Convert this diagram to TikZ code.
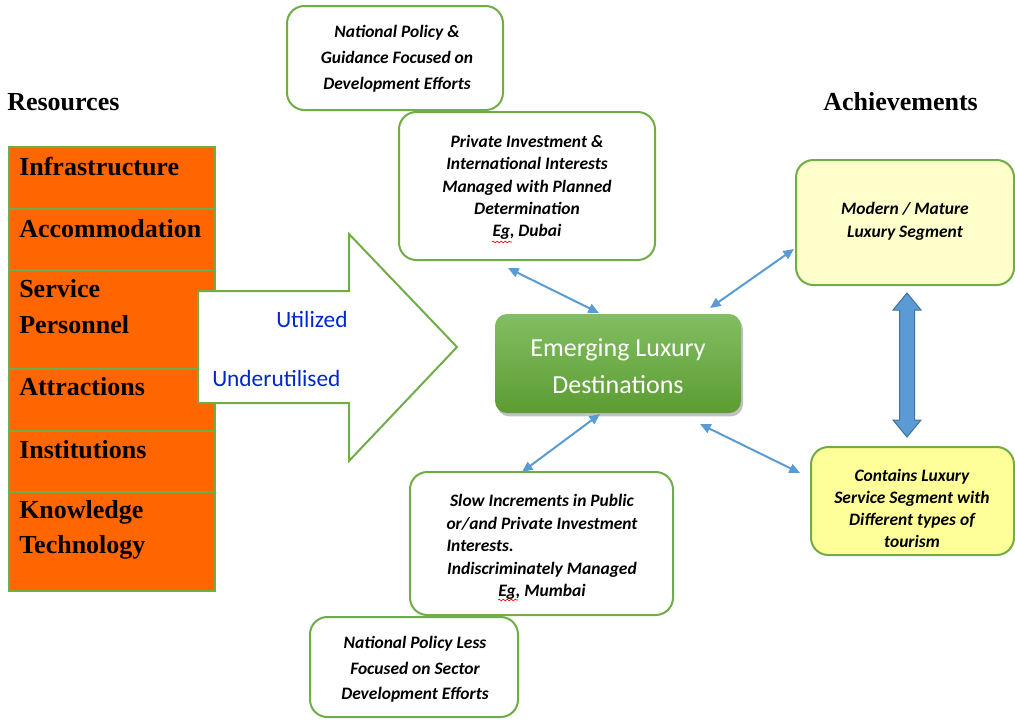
\documentclass[tikz,border=0pt]{standalone}
\usepackage{fontspec}
\usepackage{calc}
\setmainfont{Liberation Serif}
\newfontfamily\calfont{Carlito}
\usetikzlibrary{arrows.meta,shadows,decorations.pathmorphing}
\definecolor{bgreen}{RGB}{112,173,71}
\definecolor{orng}{RGB}{255,102,0}
\definecolor{ublue}{RGB}{0,40,200}
\definecolor{cblue}{RGB}{91,155,213}
\definecolor{cbluedk}{RGB}{65,113,156}
\definecolor{yelA}{RGB}{255,255,204}
\definecolor{yelB}{RGB}{255,255,153}
\definecolor{gtop}{RGB}{130,190,98}
\definecolor{gbot}{RGB}{92,156,50}
\begin{document}
\begin{tikzpicture}[x=0.75pt,y=-0.75pt,
  resrow/.style={draw=bgreen, line width=1.5pt, fill=orng, minimum width=154.5pt, inner sep=0, anchor=north west},
  restext/.style={anchor=base west, inner sep=0, font=\fontsize{19.5}{24}\selectfont\bfseries},
  ibox/.style={draw=bgreen, line width=1.5pt, fill=white, rounded corners=13pt, inner sep=0},
  ybox/.style={draw=bgreen, line width=1.5pt, rounded corners=13pt, inner sep=0},
  itext/.style={font=\calfont\fontsize{13.1}{#1}\selectfont\bfseries\itshape, align=center, inner sep=0},
  utext/.style={font=\calfont\fontsize{17.5}{21}\selectfont, text=ublue, anchor=base west, inner sep=0},
  conn/.style={draw=cblue, line width=1.5pt, {Triangle[length=8pt,width=7pt]}-{Triangle[length=8pt,width=7pt]}},
  squig/.style={draw=red, line width=0.5pt, decorate, decoration={snake, amplitude=0.6pt, segment length=3pt}}
]
\useasboundingbox (0,0) rectangle (1015,719);

% headings
\node[restext] (reshead) at (7,110) {Resources};
\node[restext] (achhead) at (823,110) {Achievements};

% resource column
\node[resrow, minimum height=46.5pt] (r1) at (8,146) {};
\node[resrow, minimum height=45.75pt] (r2) at (8,208) {};
\node[resrow, minimum height=74.25pt] (r3) at (8,269) {};
\node[resrow, minimum height=46.5pt] (r4) at (8,368) {};
\node[resrow, minimum height=45.75pt] (r5) at (8,430) {};
\node[resrow, minimum height=74.25pt] (r6) at (8,491) {};
\node[restext] (t1) at (19,175) {Infrastructure};
\node[restext] (t2) at (19,237) {Accommodation};
\node[restext] (t3a) at (19,297) {Service};
\node[restext] (t3b) at (19,333) {Personnel};
\node[restext] (t4) at (19,395) {Attractions};
\node[restext] (t5) at (19,458) {Institutions};
\node[restext] (t6a) at (19,518) {Knowledge};
\node[restext] (t6b) at (19,553) {Technology};

% block arrow
\draw[draw=bgreen, line width=1.5pt, fill=white, line join=miter]
  (198,291) -- (349,291) -- (349,234) -- (457,347) -- (349,461) -- (349,403) -- (198,403) -- cycle;
\node[utext] (util) at (276,327) {Utilized};
\node[utext] (under) at (212,386) {Underutilised};

% top boxes
\node[ibox, minimum width=162pt, minimum height=78pt] (b1) at (395,58) {};
\node[itext=19.5pt] (b1t) at (397,59) {National Policy \&\\Guidance Focused on\\Development Efforts};
\node[ibox, minimum width=192pt, minimum height=111pt] (b2) at (527,186) {};
\node[itext=16.7pt] (b2t) at (527,187.5) {Private Investment \&\\International Interests\\Managed with Planned\\Determination\\Eg, Dubai};
\draw[squig] (492,242) -- (512,242);

% bottom boxes
\node[ibox, minimum width=197.25pt, minimum height=107.25pt] (b3) at (541.5,543.5) {};
\node[itext=16.9pt] (b3t) at (542,547) {Slow Increments in Public\\or/and Private Investment\\\makebox[\widthof{or/and Private Investment}][l]{Interests.}\\Indiscriminately Managed\\Eg, Mumbai};
\draw[squig] (498,600) -- (518,600);
\node[ibox, minimum width=156pt, minimum height=75pt] (b4) at (414,667) {};
\node[itext=19.1pt] (b4t) at (415,669.5) {National Policy Less\\Focused on Sector\\Development Efforts};

% achievements
\node[ybox, fill=yelA, minimum width=163.5pt, minimum height=93.75pt] (y1) at (905,222.5) {};
\node[itext=17.25pt] (y1t) at (905,221.5) {Modern / Mature\\Luxury Segment};
\node[ybox, fill=yelB, minimum width=152.25pt, minimum height=81pt] (y2) at (912.5,501) {};
\node[itext=16.5pt] (y2t) at (912,508) {Contains Luxury\\Service Segment with\\Different types of\\tourism};

% central hub
\node[rounded corners=9pt, top color=gtop, bottom color=gbot, draw=none,
      drop shadow={shadow xshift=1.5pt, shadow yshift=-2.5pt, opacity=0.35, fill=black!70},
      minimum width=184.5pt, minimum height=74.25pt, inner sep=0] (hub) at (618,363.5) {};
\node[font=\calfont\fontsize{19.5}{27.75}\selectfont, text=white, align=center, inner sep=0] (hubt) at (618,366) {Emerging Luxury\\Destinations};

% thick double arrow
\draw[fill=cblue, draw=cbluedk, line width=0.75pt, line join=miter]
  (907,293) -- (921,310) -- (914.5,310) -- (914.5,420) -- (921,420) -- (907,437)
  -- (893,420) -- (899.5,420) -- (899.5,310) -- (893,310) -- cycle;

% connectors
\coordinate (a1) at (508,268); \coordinate (a2) at (599,313);
\coordinate (b1c) at (710,308); \coordinate (b2c) at (794,249);
\coordinate (c1) at (600,414); \coordinate (c2) at (522,472);
\coordinate (d1) at (700,424); \coordinate (d2) at (800,473);
\draw[conn] (a1) -- (a2);
\draw[conn] (b1c) -- (b2c);
\draw[conn] (c1) -- (c2);
\draw[conn] (d1) -- (d2);
\end{tikzpicture}
\end{document}
